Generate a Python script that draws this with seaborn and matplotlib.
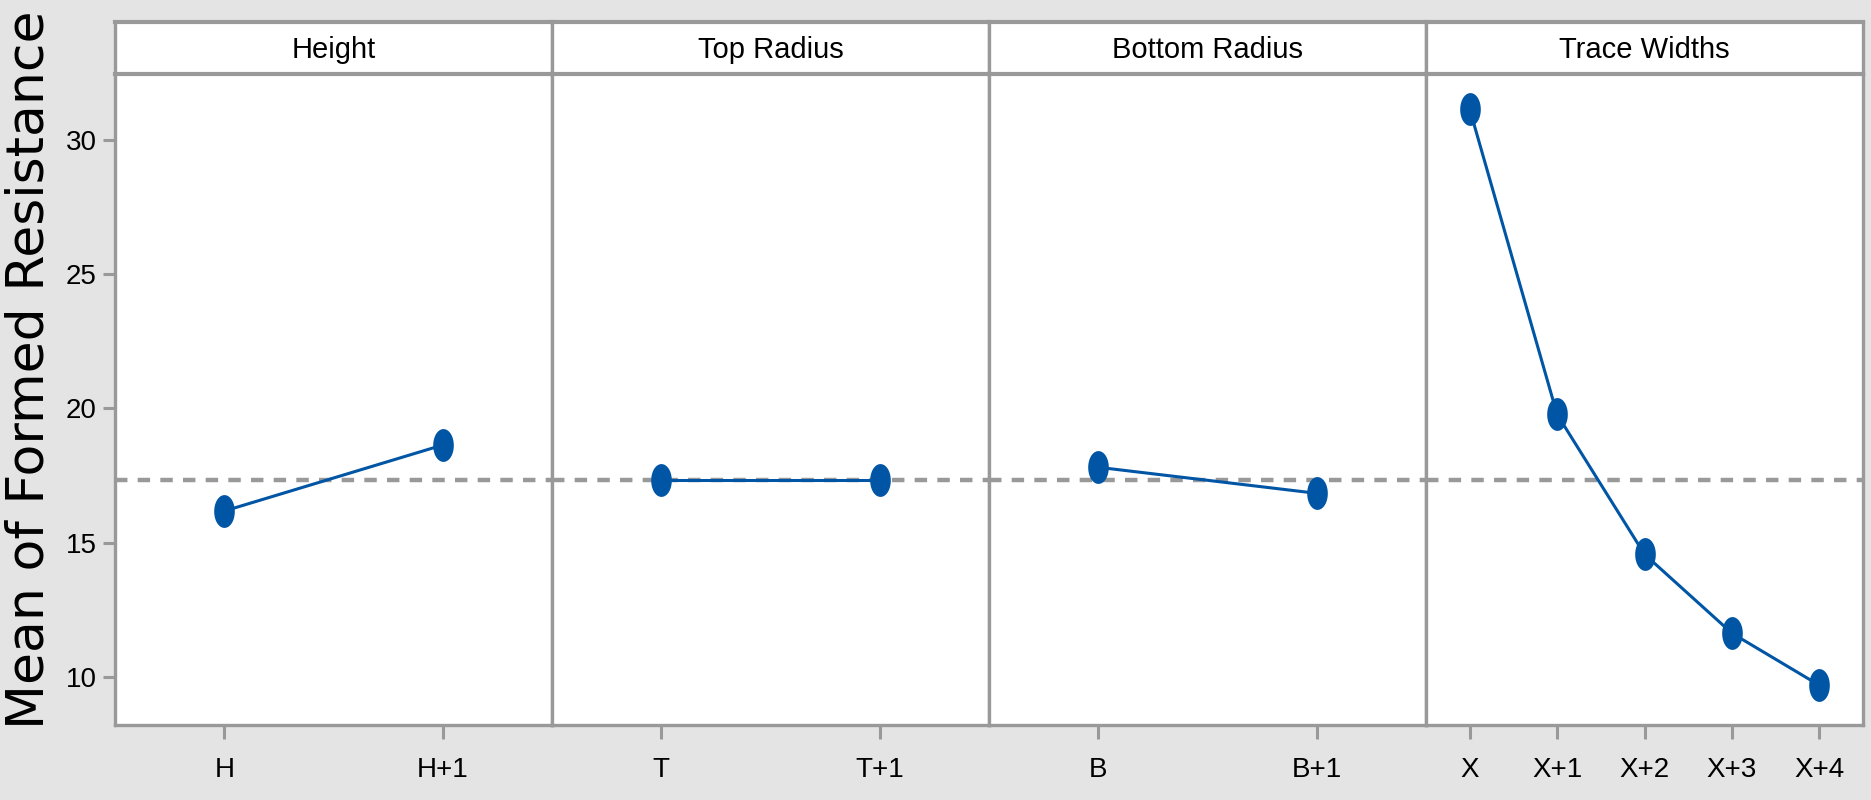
import numpy as np
import pandas as pd
import seaborn as sns
import matplotlib
matplotlib.use("Agg")
import matplotlib.pyplot as plt
from matplotlib.path import Path

# factor levels and mean responses
factors = ["Height", "Top Radius", "Bottom Radius", "Trace Widths"]
height_levels = ["H", "H+1"]
height_means = [16.18, 18.64]
top_levels = ["T", "T+1"]
top_means = [17.33, 17.33]
bottom_levels = ["B", "B+1"]
bottom_means = [17.81, 16.84]
trace_levels = ["X", "X+1", "X+2", "X+3", "X+4"]
trace_means = [31.15, 19.78, 14.57, 11.63, 9.69]
grand_mean = 17.34
y_ticks = [10, 15, 20, 25, 30]

levels = [height_levels, top_levels, bottom_levels, trace_levels]
means = [height_means, top_means, bottom_means, trace_means]

rows = []
for f, lv, mv in zip(factors, levels, means):
    for l, m in zip(lv, mv):
        rows.append({"factor": f, "level": l, "mean": m})
df = pd.DataFrame(rows)

sns.set_theme(style="white")
plt.rcParams["font.family"] = ["Liberation Sans", "DejaVu Sans"]
plt.rcParams["text.color"] = "black"

BG = "#e4e4e4"
GREY = "#999999"
BLUE = "#0055a5"

W, H = 1871, 800
fig = plt.figure(figsize=(W / 100, H / 100), dpi=100, facecolor=BG)

# squashed circle marker, like the original
t = np.linspace(0, 2 * np.pi, 40)
ellipse = Path(np.column_stack([0.6 * np.cos(t), np.sin(t)]), closed=True)

left, right = 115, 1863
top_strip, top_plot, bottom = 22, 74, 725
pw = (right - left) / 4

for i, f in enumerate(factors):
    x0 = left + i * pw
    ax = fig.add_axes([x0 / W, 1 - bottom / H, pw / W, (bottom - top_plot) / H])
    sub = df[df["factor"] == f]
    sns.pointplot(data=sub, x="level", y="mean", order=levels[i], errorbar=None,
                  color=BLUE, marker=ellipse, markersize=22, linewidth=2.2, ax=ax)
    ax.axhline(grand_mean, color=GREY, lw=3.2, dashes=(2.8, 2.3), zorder=0)
    ax.set_xlim(-0.5, len(levels[i]) - 0.5)
    ax.set_ylim(8.21, 32.46)
    ax.set_facecolor("white")
    ax.set_xlabel("")
    ax.set_ylabel("")
    for s in ax.spines.values():
        s.set_color(GREY)
        s.set_linewidth(2.4)
    ax.spines["top"].set_visible(False)
    ax.tick_params(axis="x", length=10, width=2.2, color=GREY, pad=13,
                   labelsize=20, labelcolor="black", bottom=True)
    if i == 0:
        ax.set_yticks(y_ticks)
        ax.tick_params(axis="y", length=9, width=2.2, color=GREY, pad=4,
                       labelsize=20, labelcolor="black", left=True)
    else:
        ax.set_yticks([])

    # strip header
    sx = fig.add_axes([x0 / W, 1 - top_plot / H, pw / W, (top_plot - top_strip) / H])
    sx.set_facecolor("white")
    sx.set_xticks([])
    sx.set_yticks([])
    for s in sx.spines.values():
        s.set_color(GREY)
        s.set_linewidth(2.4)
    sx.spines["top"].set_linewidth(3)
    sx.spines["bottom"].set_linewidth(3)
    sx.text(0.5, 0.47, f, ha="center", va="center", fontsize=21,
            color="black", transform=sx.transAxes)

fig.text(30 / W, 0.5 + 30 / H, "Mean of Formed Resistance", rotation=90,
         ha="center", va="center", fontsize=37.5, color="black",
         family=["DejaVu Sans"])

fig.savefig("out.png", dpi=100, facecolor=BG)
